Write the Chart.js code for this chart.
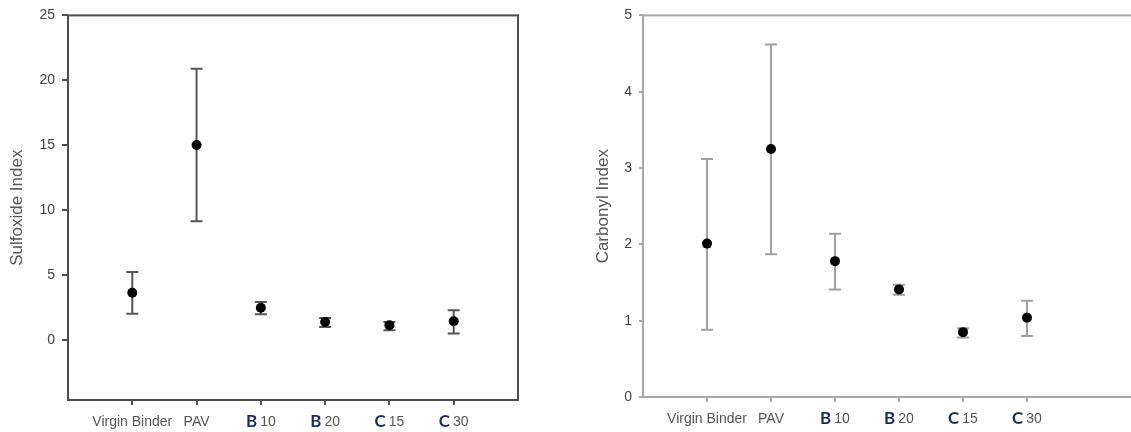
<!DOCTYPE html>
<html>
<head>
<meta charset="utf-8">
<script src="https://cdn.jsdelivr.net/npm/chart.js@4"></script>
<style>
html, body { margin: 0; padding: 0; background: #fff; overflow: hidden; width: 1131px; height: 432px; }
#sulfoxide { position: absolute; left: 0; top: 0; }
#carbonyl { position: absolute; left: 560px; top: 0; }
</style>
</head>
<body>
<canvas id="sulfoxide" width="530" height="432"></canvas>
<canvas id="carbonyl" width="605" height="432"></canvas>
<script>
const categories = ["Virgin Binder", "PAV", "B 10", "B 20", "C 15", "C 30"];

const sulfoxideMean  = [3.66, 15.03, 2.5, 1.4, 1.15, 1.46];
const sulfoxideUpper = [5.26, 20.9, 2.94, 1.71, 1.4, 2.3];
const sulfoxideLower = [2.04, 9.15, 2.0, 1.02, 0.77, 0.51];

const carbonylMean  = [2.01, 3.25, 1.78, 1.41, 0.85, 1.04];
const carbonylUpper = [3.12, 4.62, 2.14, 1.47, 0.9, 1.26];
const carbonylLower = [0.88, 1.87, 1.41, 1.34, 0.78, 0.8];

const sulfoxideTicks = [0, 5, 10, 15, 20, 25];
const carbonylTicks = [0, 1, 2, 3, 4, 5];

// whiskers with caps, drawn under the points
const errorBars = {
  id: 'errorBars',
  beforeDatasetsDraw(chart, args, opts) {
    const { ctx, scales: { x, y } } = chart;
    ctx.save();
    ctx.strokeStyle = opts.color;
    ctx.lineWidth = opts.width;
    opts.upper.forEach((hi, i) => {
      const px = x.getPixelForValue(i);
      const top = y.getPixelForValue(hi);
      const bot = y.getPixelForValue(opts.lower[i]);
      ctx.beginPath();
      ctx.moveTo(px, top); ctx.lineTo(px, bot);
      ctx.moveTo(px - opts.cap, top); ctx.lineTo(px + opts.cap, top);
      ctx.moveTo(px - opts.cap, bot); ctx.lineTo(px + opts.cap, bot);
      ctx.stroke();
    });
    ctx.restore();
  }
};

// box round the plot area
const frame = {
  id: 'frame',
  afterDraw(chart, args, opts) {
    const { ctx, chartArea: a } = chart;
    ctx.save();
    ctx.strokeStyle = opts.color;
    ctx.lineWidth = opts.width;
    ctx.strokeRect(a.left, a.top, a.right - a.left, a.bottom - a.top);
    ctx.restore();
  }
};

// category labels: bold blue letter + grey number
const xLabels = {
  id: 'xLabels',
  afterDraw(chart, args, opts) {
    const { ctx, scales: { x } } = chart;
    ctx.save();
    ctx.textBaseline = 'alphabetic';
    categories.forEach((label, i) => {
      const px = x.getPixelForValue(i);
      const m = /^([A-Z]) (\d+)$/.exec(label);
      const boldFont = 'bold 17px Lato';
      const normFont = '14px "Liberation Sans"';
      let pre = '', rest = label;
      if (m) { pre = m[1]; rest = m[2]; }
      ctx.font = boldFont;
      const wp = pre ? ctx.measureText(pre).width + opts.gap : 0;
      ctx.font = normFont;
      const wr = ctx.measureText(rest).width;
      let sx = px - (wp + wr) / 2;
      if (pre) {
        ctx.font = boldFont;
        ctx.fillStyle = '#1d2c5e';
        ctx.textAlign = 'left';
        ctx.fillText(pre, sx, opts.y + 1);
        sx += wp;
      }
      ctx.font = normFont;
      ctx.fillStyle = opts.color;
      ctx.textAlign = 'left';
      ctx.fillText(rest, sx, opts.y);
    });
    ctx.restore();
  }
};

function makeChart(id, cfg) {
  return new Chart(document.getElementById(id), {
    type: 'scatter',
    data: {
      datasets: [{
        data: cfg.mean.map((v, i) => ({ x: i, y: v })),
        pointRadius: 5,
        pointBackgroundColor: '#000',
        pointBorderWidth: 0,
        showLine: false
      }]
    },
    options: {
      responsive: false,
      animation: false,
      events: [],
      layout: { padding: { top: cfg.top, right: cfg.right, left: 0, bottom: 0 } },
      plugins: {
        legend: { display: false },
        tooltip: { enabled: false },
        errorBars: { upper: cfg.upper, lower: cfg.lower, color: cfg.barColor, width: 2, cap: 6 },
        frame: { color: cfg.axisColor, width: 2 },
        xLabels: { y: cfg.labelY, color: '#555', gap: 3 }
      },
      scales: {
        x: {
          type: 'linear',
          min: -1,
          max: cfg.xMax,
          afterBuildTicks: s => { s.ticks = categories.map((c, i) => ({ value: i })); },
          afterFit: s => { s.height = cfg.xHeight; },
          ticks: { display: false },
          border: { display: false },
          grid: { drawOnChartArea: false, drawTicks: true, tickLength: 5, color: cfg.axisColor, lineWidth: 2 }
        },
        y: {
          min: cfg.yMin,
          max: cfg.yMax,
          afterBuildTicks: s => { s.ticks = cfg.yTicks.map(v => ({ value: v })); },
          afterFit: s => { s.width = cfg.yWidth; },
          ticks: { color: '#444', font: { family: 'Liberation Sans', size: 14 }, padding: 7 },
          border: { display: false },
          grid: { drawOnChartArea: false, drawTicks: true, tickLength: cfg.yTick, color: cfg.axisColor, lineWidth: 2 },
          title: {
            display: true,
            text: cfg.title,
            color: '#555',
            font: { family: 'Liberation Sans', size: 17 },
            padding: { top: cfg.titlePad, bottom: 0 }
          }
        }
      }
    },
    plugins: [errorBars, frame, xLabels]
  });
}

makeChart('sulfoxide', {
  mean: sulfoxideMean, upper: sulfoxideUpper, lower: sulfoxideLower,
  yTicks: sulfoxideTicks, yMin: -4.6, yMax: 25, xMax: 6,
  title: 'Sulfoxide Index', titlePad: 7,
  top: 14, right: 12, yWidth: 68, xHeight: 32, yTick: 6,
  labelY: 426, axisColor: '#4d4d4d', barColor: '#555'
});

makeChart('carbonyl', {
  mean: carbonylMean, upper: carbonylUpper, lower: carbonylLower,
  yTicks: carbonylTicks, yMin: 0, yMax: 5, xMax: 7,
  title: 'Carbonyl Index', titlePad: 33,
  top: 15, right: 10, yWidth: 83, xHeight: 35, yTick: 4,
  labelY: 423, axisColor: '#a8a8a8', barColor: '#a0a0a0'
});
</script>
</body>
</html>
